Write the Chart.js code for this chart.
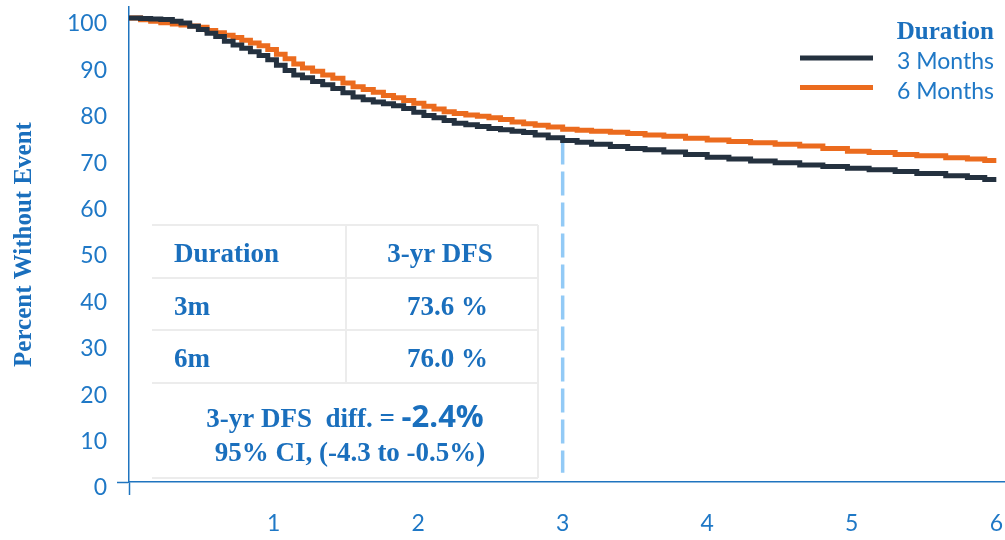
<!DOCTYPE html>
<html>
<head>
<meta charset="utf-8">
<script src="https://cdn.jsdelivr.net/npm/chart.js@4.4.1/dist/chart.umd.min.js"></script>
<style>
  html, body { margin: 0; padding: 0; background: #ffffff; }
  #wrap { position: relative; width: 1005px; height: 540px; }
</style>
</head>
<body>
<div id="wrap"><canvas id="km"></canvas></div>
<script>
// ---- data -------------------------------------------------------------
const seriesNames = ['3 Months', '6 Months'];
const legendTitle = 'Duration';

// 3-year disease-free survival, per arm (%)
const dfsYear = 3;
const dfsAtYear3 = [73.6, 76.0];
const dfsDiff = -2.4;
const dfsCI = [-4.3, -0.5];

const tableHeader = ['Duration', '3-yr DFS'];
const tableRowLabels = ['3m', '6m'];

// follow-up time (years) at which the survival estimates are read
const followUpYears = [
  0, 0.08, 0.15, 0.22, 0.3, 0.36, 0.42, 0.48, 0.54, 0.6, 0.66, 0.72, 0.78, 0.84, 0.9, 0.96,
  1.02, 1.08, 1.14, 1.2, 1.27, 1.34, 1.41, 1.48, 1.55, 1.62, 1.69, 1.76, 1.83, 1.9, 1.97,
  2.04, 2.11, 2.18, 2.25, 2.33, 2.41, 2.49, 2.57, 2.65, 2.73, 2.81, 2.9, 3.0, 3.1, 3.2,
  3.33, 3.45, 3.57, 3.7, 3.85, 4.0, 4.15, 4.3, 4.47, 4.64, 4.8, 4.97, 5.12, 5.3, 5.45,
  5.65, 5.8, 5.92, 6.0
];

// percent without event, 3-month arm
const months3Pct = [
  100, 99.9, 99.8, 99.7, 99.3, 98.9, 98.2, 97.5, 96.7, 96.0, 95.0, 94.2, 93.5, 92.7, 91.9, 91.0,
  89.8, 88.7, 87.7, 87.1, 86.3, 85.6, 84.8, 83.9, 83.0, 82.4, 81.9, 81.5, 81.1, 80.5, 79.7,
  79.0, 78.5, 77.9, 77.3, 77.0, 76.6, 76.2, 75.9, 75.6, 75.3, 74.8, 74.2, dfsAtYear3[0], 73.2, 72.8,
  72.3, 71.9, 71.6, 71.1, 70.6, 70.0, 69.6, 69.2, 68.8, 68.3, 68.0, 67.6, 67.3, 66.9, 66.5,
  66.0, 65.6, 65.2, 65.2
];

// percent without event, 6-month arm
const months6Pct = [
  100, 99.6, 99.3, 99.0, 98.7, 98.5, 98.3, 98.0, 97.3, 96.8, 96.3, 95.8, 95.2, 94.6, 94.0, 93.2,
  92.2, 91.2, 90.1, 89.2, 88.5, 87.7, 87.0, 86.0, 85.2, 84.6, 84.0, 83.3, 82.8, 82.2, 81.6,
  81.0, 80.4, 79.8, 79.4, 79.1, 78.8, 78.5, 78.1, 77.6, 77.2, 76.9, 76.5, dfsAtYear3[1], 75.8, 75.6,
  75.4, 75.1, 74.8, 74.5, 74.1, 73.7, 73.4, 73.1, 72.8, 72.4, 71.9, 71.3, 71.0, 70.6, 70.3,
  69.9, 69.6, 69.3, 69.3
];

const xTickValues = [0, 1, 2, 3, 4, 5, 6];
const yTickValues = [0, 10, 20, 30, 40, 50, 60, 70, 80, 90, 100];
const yAxisTitle = 'Percent Without Event';
const markerBottomPct = 2;

// ---- styles -----------------------------------------------------------
const tickBlue = '#1f78c6';
const boldBlue = '#1a6fbd';
const axisBlue = '#1f74bf';
const seriesColors = ['#24313f', '#eb6b1e'];
const markerColor = '#92caf6';
const tickFont = { family: 'Lato, "Open Sans", sans-serif', size: 23 };
const serifBold = '"Liberation Serif", "DejaVu Serif", serif';

const toPoints = (xs, ys) => xs.map((x, i) => ({ x, y: ys[i] }));

// legend drawn in the upper right, from the survival datasets
const durationLegend = {
  id: 'durationLegend',
  afterDraw(chart) {
    const ctx = chart.ctx;
    ctx.save();
    ctx.textBaseline = 'middle';
    ctx.fillStyle = boldBlue;
    ctx.font = 'bold 25px ' + serifBold;
    ctx.textAlign = 'right';
    ctx.fillText(legendTitle, 994, 33);
    chart.data.datasets.filter(d => d.inLegend).forEach((d, i) => {
      const y = 58 + i * 29.5;
      ctx.strokeStyle = d.borderColor;
      ctx.lineWidth = 5;
      ctx.beginPath();
      ctx.moveTo(800, y);
      ctx.lineTo(873, y);
      ctx.stroke();
      ctx.font = '23px Lato, "Open Sans", sans-serif';
      ctx.fillStyle = tickBlue;
      ctx.textAlign = 'left';
      ctx.fillText(d.label, 897, y + 4);
    });
    ctx.restore();
  }
};

// summary table of 3-year DFS
const dfsTable = {
  id: 'dfsTable',
  afterDraw(chart) {
    const ctx = chart.ctx;
    const L = 152, R = 538, T = 225, B = 478, mid = 346;
    const rules = [225, 278, 330, 383, 478];
    ctx.save();
    ctx.fillStyle = '#ffffff';
    ctx.fillRect(L, T, R - L, B - T);
    ctx.strokeStyle = '#ececec';
    ctx.lineWidth = 2;
    ctx.beginPath();
    rules.forEach(y => { ctx.moveTo(L, y); ctx.lineTo(R, y); });
    ctx.moveTo(mid, T); ctx.lineTo(mid, 383);
    ctx.moveTo(R, T); ctx.lineTo(R, B);
    ctx.stroke();

    ctx.fillStyle = boldBlue;
    ctx.textBaseline = 'middle';
    ctx.font = 'bold 27px ' + serifBold;
    ctx.textAlign = 'left';
    ctx.fillText(tableHeader[0], 174, 255);
    ctx.textAlign = 'center';
    ctx.fillText(tableHeader[1], 440, 255);

    tableRowLabels.forEach((lab, i) => {
      const y = 308 + i * 52;
      ctx.textAlign = 'left';
      ctx.fillText(lab, 174, y);
      ctx.textAlign = 'right';
      ctx.fillText(dfsAtYear3[i].toFixed(1) + ' %', 488, y);
    });

    // difference line: serif label followed by a larger sans value
    const diffLabel = '3-yr DFS  diff. = ';
    const diffValue = dfsDiff.toFixed(1) + '%';
    ctx.font = 'bold 27px ' + serifBold;
    const w1 = ctx.measureText(diffLabel).width;
    ctx.font = 'bold 31px "Open Sans", "Noto Sans", sans-serif';
    const w2 = ctx.measureText(diffValue).width;
    const x0 = 345 - (w1 + w2) / 2;
    ctx.textAlign = 'left';
    ctx.font = 'bold 27px ' + serifBold;
    ctx.fillText(diffLabel, x0, 420);
    ctx.font = 'bold 31px "Open Sans", "Noto Sans", sans-serif';
    ctx.fillText(diffValue, x0 + w1, 418);

    ctx.font = 'bold 27px ' + serifBold;
    ctx.textAlign = 'center';
    ctx.fillText('95% CI, (' + dfsCI[0].toFixed(1) + ' to ' + dfsCI[1].toFixed(1) + '%)', 350, 454);
    ctx.restore();
  }
};

const tickOnlyAtZero = c => (c.tick && c.tick.value === 0 ? axisBlue : 'rgba(0,0,0,0)');

new Chart(document.getElementById('km'), {
  type: 'line',
  data: {
    datasets: [
      {
        label: seriesNames[0],
        inLegend: true,
        data: toPoints(followUpYears, months3Pct),
        borderColor: seriesColors[0],
        borderWidth: 5,
        stepped: true,
        pointRadius: 0,
        fill: false,
        order: 1
      },
      {
        label: seriesNames[1],
        inLegend: true,
        data: toPoints(followUpYears, months6Pct),
        borderColor: seriesColors[1],
        borderWidth: 5,
        stepped: true,
        pointRadius: 0,
        fill: false,
        order: 2
      },
      {
        label: '3-year marker',
        inLegend: false,
        data: [{ x: dfsYear, y: dfsAtYear3[0] }, { x: dfsYear, y: markerBottomPct }],
        borderColor: markerColor,
        borderWidth: 3.5,
        borderDash: [24, 7],
        pointRadius: 0,
        fill: false,
        order: 3
      }
    ]
  },
  options: {
    responsive: true,
    maintainAspectRatio: false,
    animation: false,
    events: [],
    layout: { padding: { top: 7, right: 0, left: 0, bottom: 0 } },
    plugins: { legend: { display: false }, tooltip: { enabled: false } },
    scales: {
      x: {
        type: 'linear',
        min: 0,
        max: 6.06,
        afterBuildTicks: s => { s.ticks = xTickValues.map(v => ({ value: v })); },
        afterFit: s => {
          s.height = 58;
          s.paddingLeft = 0;
          s.paddingRight = 0;
        },
        border: { color: axisBlue, width: 1.5 },
        grid: {
          drawOnChartArea: false,
          drawTicks: true,
          tickLength: 13,
          tickWidth: 1.5,
          tickColor: tickOnlyAtZero
        },
        ticks: {
          color: tickBlue,
          font: tickFont,
          padding: 15,
          maxRotation: 0,
          autoSkip: false,
          callback: v => (v === 0 ? '' : String(v))
        }
      },
      y: {
        type: 'linear',
        min: 0,
        max: 102.37,
        afterBuildTicks: s => { s.ticks = yTickValues.map(v => ({ value: v })); },
        afterFit: s => {
          s.width = 129;
          s.paddingTop = 0;
          s.paddingBottom = 0;
        },
        border: { color: axisBlue, width: 1.5 },
        grid: {
          drawOnChartArea: false,
          drawTicks: true,
          tickLength: 12,
          tickWidth: 1.5,
          tickColor: tickOnlyAtZero
        },
        ticks: {
          color: tickBlue,
          font: tickFont,
          padding: 10,
          labelOffset: 6,
          autoSkip: false
        },
        title: {
          display: true,
          text: yAxisTitle,
          color: boldBlue,
          font: { family: serifBold, size: 25, weight: 'bold' },
          padding: { top: 10, bottom: 0 }
        }
      }
    }
  },
  plugins: [dfsTable, durationLegend]
});
</script>
</body>
</html>
